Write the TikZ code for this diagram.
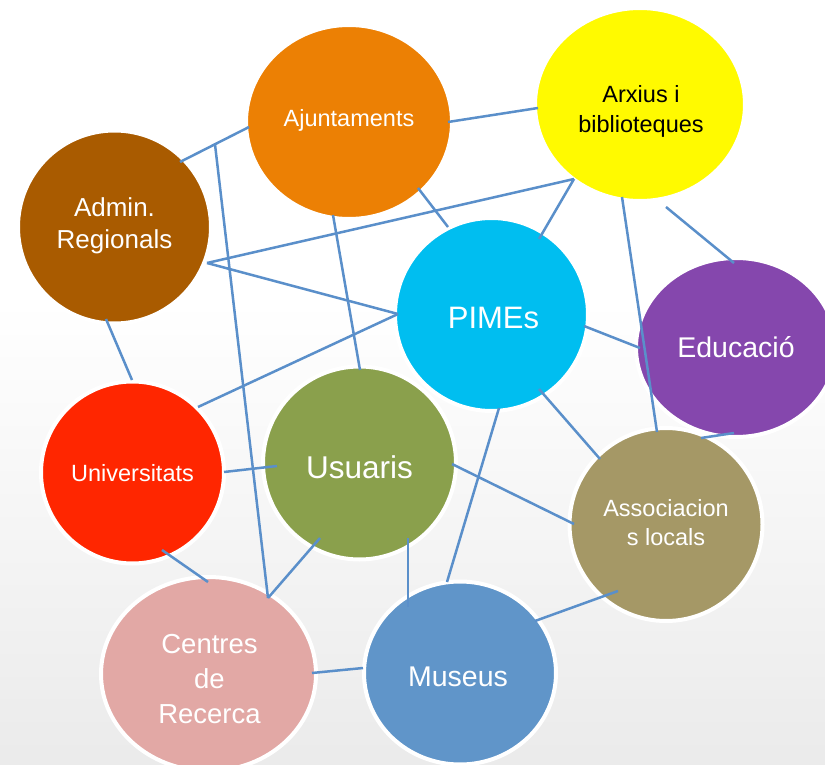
\documentclass[tikz,border=0pt]{standalone}
\usepackage{fontspec}
\setmainfont{Liberation Sans}
\usetikzlibrary{shapes.geometric}
\definecolor{cAj}{RGB}{236,128,4}
\definecolor{cAr}{RGB}{255,250,0}
\definecolor{cAd}{RGB}{169,91,0}
\definecolor{cPi}{RGB}{0,190,240}
\definecolor{cEd}{RGB}{133,71,173}
\definecolor{cUn}{RGB}{255,38,0}
\definecolor{cUs}{RGB}{138,160,76}
\definecolor{cAs}{RGB}{165,152,102}
\definecolor{cCe}{RGB}{226,168,165}
\definecolor{cMu}{RGB}{96,149,201}
\definecolor{cLine}{RGB}{90,143,202}
\begin{document}
\begin{tikzpicture}[x=1pt,y=-1pt,
  bubble/.style={ellipse, draw=white, line width=4pt, inner sep=0pt},
  txt/.style={align=center, text=white, inner sep=0pt},
  link/.style={draw=cLine, line width=2.5pt}]
\useasboundingbox (0,0) rectangle (825,765);
\fill[white] (0,0) rectangle (825,765);
\shade[top color=white, bottom color=black!8] (0,300) rectangle (825,765);

\node[bubble, fill=cAj, minimum width=206pt, minimum height=194pt] (aj) at (349,122) {};
\node[bubble, fill=cAr, minimum width=210pt, minimum height=193pt] (ar) at (640,104.5) {};
\node[bubble, fill=cAd, minimum width=193pt, minimum height=193pt] (ad) at (114.5,227) {};
\node[bubble, fill=cPi, minimum width=193pt, minimum height=193pt] (pi) at (491.5,314.5) {};
\node[bubble, fill=cEd, minimum width=200pt, minimum height=179pt] (ed) at (736,347.5) {};
\node[bubble, fill=cUn, minimum width=183pt, minimum height=182pt] (un) at (132.5,472.5) {};
\node[bubble, fill=cUs, minimum width=193pt, minimum height=193pt] (us) at (359.5,463) {};
\node[bubble, fill=cAs, minimum width=193pt, minimum height=193pt] (as) at (666,524.5) {};
\node[bubble, fill=cCe, minimum width=215pt, minimum height=194pt] (ce) at (208.5,674) {};
\node[bubble, fill=cMu, minimum width=192pt, minimum height=183pt] (mu) at (460,673) {};

% texts
\node[txt, font=\fontsize{23.5}{28}\selectfont] (tAj) at ([shift={(0,-2)}]aj.center) {Ajuntaments};
\node[txt, text=black, font=\fontsize{23.5}{30}\selectfont] (tAr) at ([shift={(1,7)}]ar.center) {Arxius i\\biblioteques};
\node[txt, font=\fontsize{26}{32}\selectfont] (tAd) at ([shift={(0,-1)}]ad.center) {Admin.\\Regionals};
\node[txt, font=\fontsize{31}{36}\selectfont] (tPi) at ([shift={(2,3)}]pi.center) {PIMEs};
\node[txt, font=\fontsize{28.5}{34}\selectfont] (tEd) at (ed.center) {Educació};
\node[txt, font=\fontsize{23.5}{28}\selectfont] (tUn) at ([shift={(0,1)}]un.center) {Universitats};
\node[txt, font=\fontsize{31.5}{36}\selectfont] (tUs) at ([shift={(0,4)}]us.center) {Usuaris};
\node[txt, font=\fontsize{23.5}{29}\selectfont] (tAs) at ([shift={(0,-2)}]as.center) {Associacion\\s locals};
\node[txt, font=\fontsize{27.5}{35}\selectfont] (tCe) at ([shift={(1,5)}]ce.center) {Centres\\de\\Recerca};
\node[txt, font=\fontsize{28.5}{34}\selectfont] (tMu) at ([shift={(-2,4)}]mu.center) {Museus};

% connectors
\draw[link] ([shift={(65.5,-65)}]ad.center) -- coordinate[pos=0.507] (j1) ([shift={(-100,5)}]aj.center);
\draw[link] (j1) -- ([shift={(59.5,-76)}]ce.center);
\draw[link] ([shift={(99,0)}]aj.center) -- ([shift={(-102,3.5)}]ar.center);
\draw[link] ([shift={(69,66)}]aj.center) -- ([shift={(-43.5,-87.5)}]pi.center);
\draw[link] ([shift={(-16,93)}]aj.center) -- ([shift={(0.5,-93)}]us.center);
\draw[link] ([shift={(-66,74.5)}]ar.center) -- ([shift={(92.5,36)}]ad.center);
\draw[link] ([shift={(92.5,36)}]ad.center) -- ([shift={(-93.5,-0.5)}]pi.center);
\draw[link] ([shift={(-66,74.5)}]ar.center) -- ([shift={(47.5,-75.5)}]pi.center);
\draw[link] ([shift={(26,102.5)}]ar.center) -- ([shift={(-2,-84.5)}]ed.center);
\draw[link] ([shift={(-18,92.5)}]ar.center) -- ([shift={(-9,-92.5)}]as.center);
\draw[link] ([shift={(-8.5,92)}]ad.center) -- ([shift={(-0.5,-92.5)}]un.center);
\draw[link] ([shift={(-93.5,-0.5)}]pi.center) -- ([shift={(65.5,-65.5)}]un.center);
\draw[link] ([shift={(92.5,11.5)}]pi.center) -- ([shift={(-96,0.5)}]ed.center);
\draw[link] ([shift={(47.5,74.5)}]pi.center) -- ([shift={(-66,-65.5)}]as.center);
\draw[link] ([shift={(7.5,93.5)}]pi.center) -- ([shift={(-13,-91)}]mu.center);
\draw[link] ([shift={(-2,85.5)}]ed.center) -- ([shift={(35,-86.5)}]as.center);
\draw[link] ([shift={(91.5,-0.5)}]un.center) -- ([shift={(-82.5,3)}]us.center);
\draw[link] ([shift={(92.5,1)}]us.center) -- ([shift={(-92,-0.5)}]as.center);
\draw[link] ([shift={(-39.5,75)}]us.center) -- ([shift={(59.5,-76)}]ce.center);
\draw[link] ([shift={(48.5,75)}]us.center) -- ([shift={(-52,-66)}]mu.center);
\draw[link] ([shift={(29.5,77.5)}]un.center) -- ([shift={(-0.5,-92)}]ce.center);
\draw[link] ([shift={(103.5,-1)}]ce.center) -- ([shift={(-97,-5)}]mu.center);
\draw[link] ([shift={(75,-52)}]mu.center) -- ([shift={(-48,66.5)}]as.center);
\end{tikzpicture}
\end{document}
